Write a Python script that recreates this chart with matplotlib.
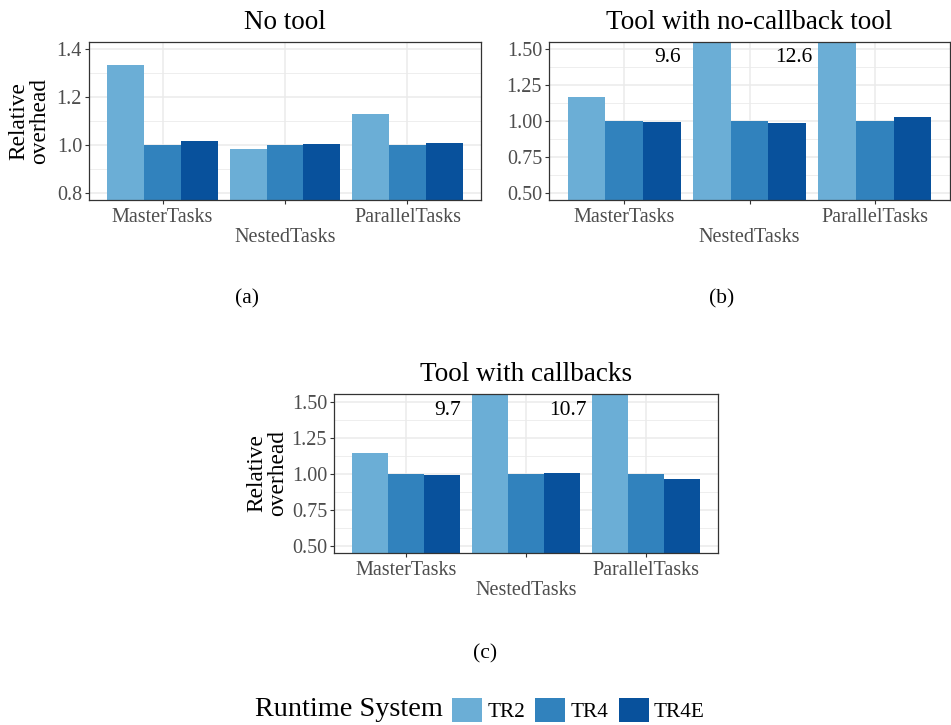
import matplotlib
matplotlib.use("Agg")
import matplotlib.pyplot as plt
import numpy as np
from matplotlib.patches import Patch

plt.rcParams['font.family'] = ['Liberation Serif', 'DejaVu Serif']

categories = ["MasterTasks", "NestedTasks", "ParallelTasks"]
systems = ["TR2", "TR4", "TR4E"]
colors = ["#6BAED6", "#3182BD", "#08519C"]

no_tool_TR2 = [1.333, 0.984, 1.130]
no_tool_TR4 = [1.0, 1.0, 1.0]
no_tool_TR4E = [1.017, 1.004, 1.008]

nocb_TR2 = [1.167, 9.6, 12.6]
nocb_TR4 = [1.0, 1.0, 1.0]
nocb_TR4E = [0.994, 0.987, 1.029]

cb_TR2 = [1.146, 9.7, 10.7]
cb_TR4 = [1.0, 1.0, 1.0]
cb_TR4E = [0.993, 1.007, 0.965]

panels = [
    dict(title="No tool", sub="(a)", data=[no_tool_TR2, no_tool_TR4, no_tool_TR4E],
         ylim=(0.772, 1.429), yticks=[0.8, 1.0, 1.2, 1.4], fmt="{:.1f}",
         minor=[0.9, 1.1, 1.3], labels=[], ylab_off=-60,
         rect=[89, 42, 481, 200]),
    dict(title="Tool with no-callback tool", sub="(b)", data=[nocb_TR2, nocb_TR4, nocb_TR4E],
         ylim=(0.454, 1.549), yticks=[0.5, 0.75, 1.0, 1.25, 1.5], fmt="{:.2f}",
         minor=[0.625, 0.875, 1.125, 1.375], labels=[(1, "9.6"), (2, "12.6")], ylab_off=None,
         rect=[549, 42, 950, 200]),
    dict(title="Tool with callbacks", sub="(c)", data=[cb_TR2, cb_TR4, cb_TR4E],
         ylim=(0.449, 1.558), yticks=[0.5, 0.75, 1.0, 1.25, 1.5], fmt="{:.2f}",
         minor=[0.625, 0.875, 1.125, 1.375], labels=[(1, "9.7"), (2, "10.7")], ylab_off=-67,
         rect=[334, 394, 718, 553]),
]

W, H = 951, 725
fig = plt.figure(figsize=(W / 100, H / 100), dpi=100)

x = np.arange(1, len(categories) + 1)
bw = 0.3
for p in panels:
    l, t, r, b = p["rect"]
    ax = fig.add_axes([l / W, 1 - b / H, (r - l) / W, (b - t) / H])
    for i, (vals, c) in enumerate(zip(p["data"], colors)):
        ax.bar(x + (i - 1) * bw, vals, width=bw, color=c, zorder=2, linewidth=0)
    ax.set_xlim(0.4, 3.6)
    ax.set_ylim(*p["ylim"])
    ax.set_yticks(p["yticks"])
    ax.set_yticklabels([p["fmt"].format(v) for v in p["yticks"]])
    ax.set_yticks(p["minor"], minor=True)
    ax.set_xticks(x)
    ax.set_xticklabels(["MasterTasks", "\nNestedTasks", "ParallelTasks"])
    ax.grid(True, which="major", color="#EBEBEB", lw=1.1, zorder=0)
    ax.grid(True, which="minor", axis="y", color="#EBEBEB", lw=0.6, zorder=0)
    ax.set_axisbelow(True)
    for s in ax.spines.values():
        s.set_color("#333333")
        s.set_linewidth(0.9)
    ax.tick_params(axis="both", which="major", length=3, width=0.8, color="#333333",
                   labelcolor="#4D4D4D", labelsize=14.5, pad=2)
    ax.tick_params(axis="x", which="major", pad=3)
    ax.tick_params(axis="y", which="minor", length=0)
    for lab in ax.get_xticklabels():
        lab.set_linespacing(1.05)
    ax.set_title(p["title"], fontsize=19.5, pad=9.5, color="black")
    for (ci, txt) in p["labels"]:
        ax.text(x[ci - 1] + 0.35, 1.44, txt, ha="center", va="center", fontsize=15.5,
                color="black", zorder=3)
    if p["ylab_off"] is not None:
        ax.text(p["ylab_off"] / (r - l), 0.5, "Relative\noverhead", rotation=90, ha="center",
                va="center", fontsize=16.8, linespacing=1.0, transform=ax.transAxes)
    cx = {"(a)": 247.5, "(b)": 722, "(c)": 485}[p["sub"]]
    cy = {"(a)": 299, "(b)": 299, "(c)": 654}[p["sub"]]
    fig.text(cx / W, 1 - cy / H, p["sub"], ha="center", va="center", fontsize=15.5)

fig.text(255 / W, 1 - 710 / H, "Runtime System", ha="left", va="center", fontsize=20.3)
handles = [Patch(facecolor=c, edgecolor="none") for c in colors]
fig.legend(handles, systems, ncol=3, loc="center left",
           bbox_to_anchor=(452 / W, 1 - 710 / H), frameon=False, fontsize=15.3,
           handlelength=1.41, handleheight=1.41, handletextpad=0.26,
           columnspacing=0.47, borderpad=0, borderaxespad=0)

fig.savefig("out.png", dpi=100)
